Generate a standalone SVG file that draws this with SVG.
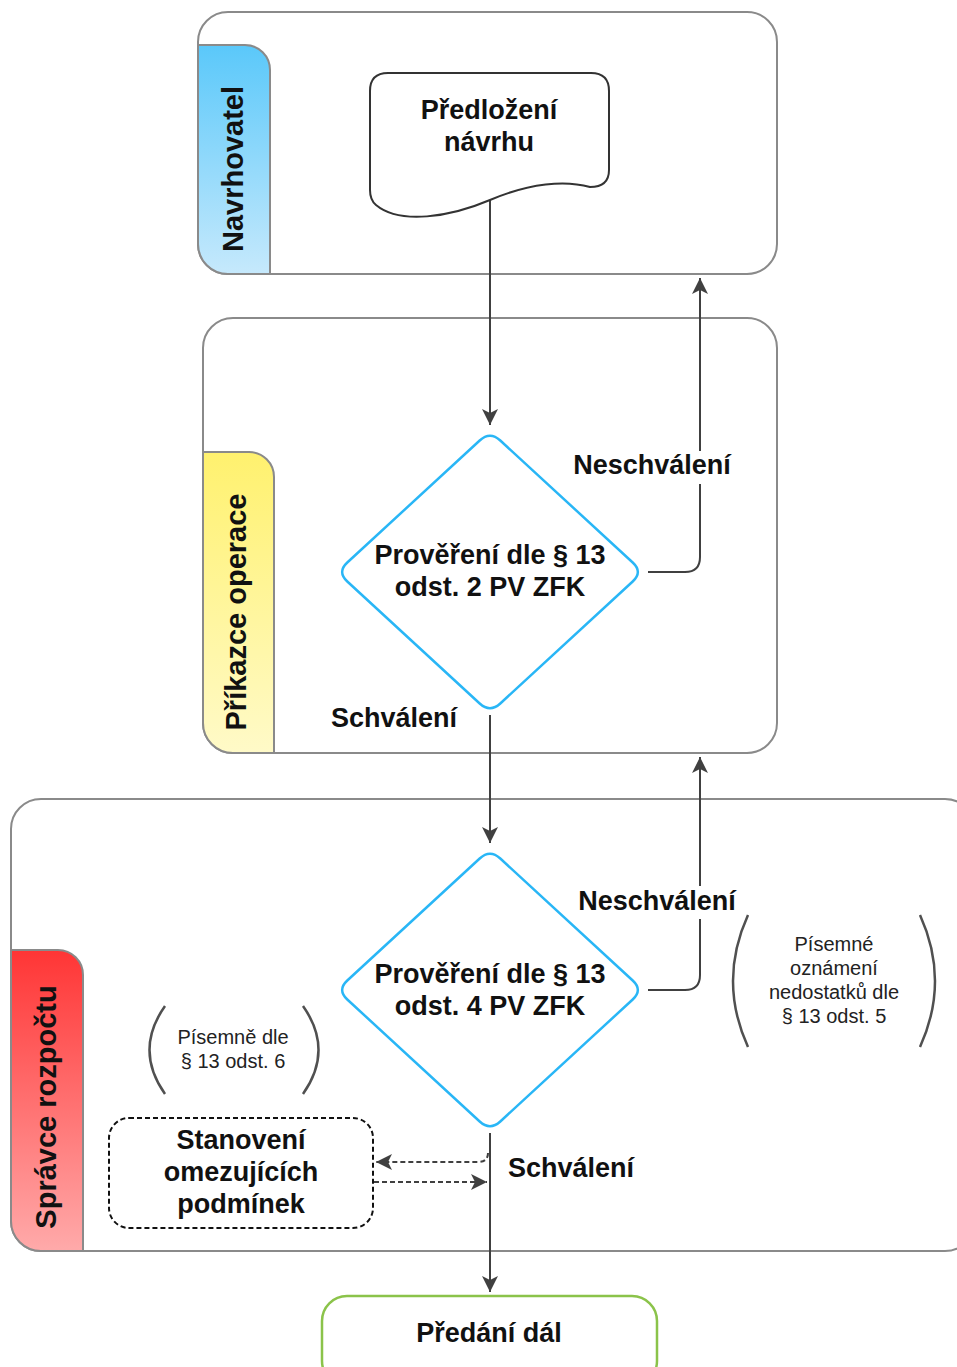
<svg xmlns="http://www.w3.org/2000/svg" width="957" height="1367" viewBox="0 0 957 1367">
<style>
.lane{fill:#fff;stroke:#8a8a8a;stroke-width:2}
.tab{stroke:#8a8a8a;stroke-width:2}
.lt{font-family:"Liberation Sans",Arial,sans-serif;font-weight:bold;font-size:29px;fill:#111;text-anchor:middle}
.bt{font-family:"Liberation Sans",Arial,sans-serif;font-weight:bold;font-size:27px;fill:#111;text-anchor:middle}
.nt{font-family:"Liberation Sans",Arial,sans-serif;font-size:20px;fill:#222;text-anchor:middle}
.dia{fill:#fff;stroke:#29b6f6;stroke-width:2.5}
.con{fill:none;stroke:#404040;stroke-width:2}
.dash{fill:none;stroke:#404040;stroke-width:2;stroke-dasharray:5,3}
.par{fill:none;stroke:#505050;stroke-width:2.5}
</style>
<defs>
<linearGradient id="gBlue" x1="0" y1="0" x2="0" y2="1"><stop offset="0" stop-color="#5ac8fa"/><stop offset="1" stop-color="#c6e9fc"/></linearGradient>
<linearGradient id="gYel" x1="0" y1="0" x2="0" y2="1"><stop offset="0" stop-color="#fff16e"/><stop offset="1" stop-color="#fffac8"/></linearGradient>
<linearGradient id="gRed" x1="0" y1="0" x2="0" y2="1"><stop offset="0" stop-color="#ff3535"/><stop offset="1" stop-color="#ffaaaa"/></linearGradient>
<marker id="arr" markerUnits="userSpaceOnUse" markerWidth="18" markerHeight="18" refX="16" refY="8" orient="auto"><path d="M0,0 L16,8 L0,16 L4,8 Z" fill="#404040"/></marker>
</defs>

<g id="lane-navrhovatel">
<rect class="lane" x="198" y="12" width="579" height="262" rx="30"/>
<path class="tab" fill="url(#gBlue)" d="M198,45 L245,45 A25,25 0 0 1 270,70 L270,274 L228,274 A30,30 0 0 1 198,244 Z"/>
<text class="lt" transform="translate(243,169) rotate(-90)">Navrhovatel</text>
</g>

<g id="lane-prikazce">
<rect class="lane" x="203" y="318" width="574" height="435" rx="30"/>
<path class="tab" fill="url(#gYel)" d="M203,452 L249,452 A25,25 0 0 1 274,477 L274,753 L233,753 A30,30 0 0 1 203,723 Z"/>
<text class="lt" transform="translate(246,612) rotate(-90)">Příkazce operace</text>
</g>

<g id="lane-spravce">
<rect class="lane" x="11" y="799" width="964" height="452" rx="30"/>
<path class="tab" fill="url(#gRed)" d="M11,950 L58,950 A25,25 0 0 1 83,975 L83,1251 L41,1251 A30,30 0 0 1 11,1221 Z"/>
<text class="lt" transform="translate(56,1107) rotate(-90)">Správce rozpočtu</text>
</g>

<g id="connectors">
<path class="con" d="M490,200 L490,425" marker-end="url(#arr)"/>
<path class="con" d="M648,572 L685,572 Q700,572 700,557 L700,484"/>
<path class="con" d="M700,451 L700,278" marker-end="url(#arr)"/>
<path class="con" d="M490,715 L490,843" marker-end="url(#arr)"/>
<path class="con" d="M648,990 L685,990 Q700,990 700,975 L700,919"/>
<path class="con" d="M700,886 L700,757" marker-end="url(#arr)"/>
<path class="con" d="M490,1133 L490,1292" marker-end="url(#arr)"/>
<path class="dash" d="M488,1153 Q488,1162 478,1162 L376,1162" marker-end="url(#arr)"/>
<path class="dash" d="M374,1182 L487,1182" marker-end="url(#arr)"/>
<text class="bt" x="652" y="474">Neschválení</text>
<text class="bt" x="394" y="727">Schválení</text>
<text class="bt" x="657" y="910">Neschválení</text>
<text class="bt" x="571" y="1177">Schválení</text>
</g>

<g id="node-predlozeni">
<path d="M370,91 Q370,73 388,73 L591,73 Q609,73 609,91 L609,170 Q609,187 590,187 C565,180 530,183 490,200 C450,217 400,225 376,205 Q370,200 370,190 Z" fill="#fff" stroke="#333" stroke-width="2"/>
<text class="bt" x="489" y="119">Předložení</text>
<text class="bt" x="489" y="151">návrhu</text>
</g>

<g id="node-provereni2">
<path class="dia" d="M500.3,440.5 L632.7,562.5 Q643,572 632.7,581.5 L500.3,703.5 Q490,713 479.7,703.5 L347.3,581.5 Q337,572 347.3,562.5 L479.7,440.5 Q490,431 500.3,440.5 Z"/>
<text class="bt" x="490" y="564">Prověření dle § 13</text>
<text class="bt" x="490" y="596">odst. 2 PV ZFK</text>
</g>

<g id="node-provereni4">
<path class="dia" d="M500.3,858.5 L632.7,980.5 Q643,990 632.7,999.5 L500.3,1121.5 Q490,1131 479.7,1121.5 L347.3,999.5 Q337,990 347.3,980.5 L479.7,858.5 Q490,849 500.3,858.5 Z"/>
<text class="bt" x="490" y="983">Prověření dle § 13</text>
<text class="bt" x="490" y="1015">odst. 4 PV ZFK</text>
</g>

<g id="note-odst5">
<path class="par" d="M748,915 Q718,981 748,1047"/>
<path class="par" d="M920,915 Q950,981 920,1047"/>
<text class="nt" x="834" y="951">Písemné</text>
<text class="nt" x="834" y="975">oznámení</text>
<text class="nt" x="834" y="999">nedostatků dle</text>
<text class="nt" x="834" y="1023">§ 13 odst. 5</text>
</g>

<g id="note-odst6">
<path class="par" d="M165,1006 Q134,1050 165,1094"/>
<path class="par" d="M303,1006 Q334,1050 303,1094"/>
<text class="nt" x="233" y="1044">Písemně dle</text>
<text class="nt" x="233" y="1068">§ 13 odst. 6</text>
</g>

<g id="node-stanoveni">
<rect x="109" y="1118" width="264" height="110" rx="20" fill="#fff" stroke="#111" stroke-width="2" stroke-dasharray="5,3"/>
<text class="bt" x="241" y="1149">Stanovení</text>
<text class="bt" x="241" y="1181">omezujících</text>
<text class="bt" x="241" y="1213">podmínek</text>
</g>

<g id="node-predani">
<rect x="322" y="1296" width="335" height="90" rx="25" fill="#fff" stroke="#8bc34a" stroke-width="2.5"/>
<text class="bt" x="489" y="1342">Předání dál</text>
</g>
</svg>
